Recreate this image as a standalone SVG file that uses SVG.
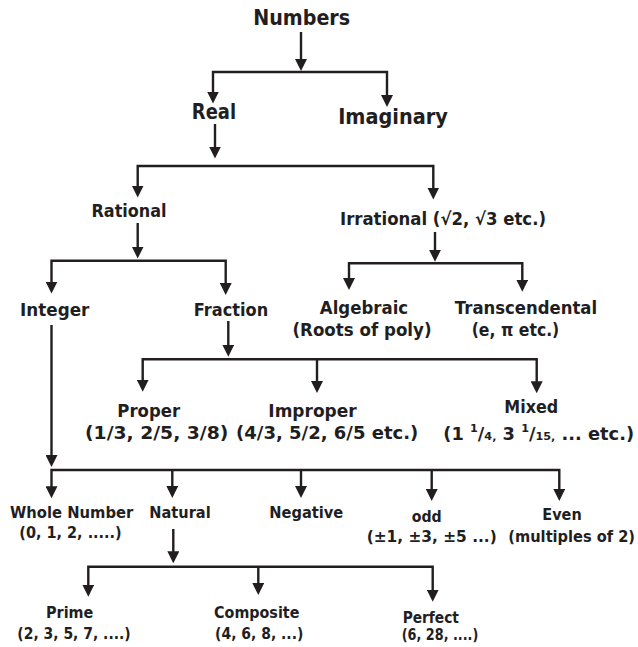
<svg xmlns="http://www.w3.org/2000/svg" width="638" height="647" viewBox="0 0 638 647">
<style>
text{font-family:"DejaVu Sans","Liberation Sans",sans-serif;font-weight:bold;fill:#221e1f;text-anchor:middle}
.t1{font-size:21px}
.t2{font-size:17.5px}
.t3{font-size:15px}
.c{fill:none;stroke:#221e1f;stroke-width:2.4;stroke-linejoin:miter}
</style>
<defs>
<marker id="ah" viewBox="0 0 12 12" markerUnits="userSpaceOnUse" markerWidth="12" markerHeight="12" refX="8" refY="6" orient="auto-start-reverse">
<path d="M0,0 L12,6 L0,12 z" fill="#221e1f"/>
</marker>
</defs>
<rect width="638" height="647" fill="#ffffff"/>
<g id="connectors">
<path class="c" d="M301,32 V67" marker-end="url(#ah)"/>
<path class="c" d="M213,99.5 V72 H387 V103" marker-start="url(#ah)" marker-end="url(#ah)"/>
<path class="c" d="M215,124 V154.5" marker-end="url(#ah)"/>
<path class="c" d="M137.7,193.5 V166 H433.3 V195.5" marker-start="url(#ah)" marker-end="url(#ah)"/>
<path class="c" d="M137.7,223 V254.5" marker-end="url(#ah)"/>
<path class="c" d="M51.5,289.5 V260.7 H225.7 V291" marker-start="url(#ah)" marker-end="url(#ah)"/>
<path class="c" d="M435,232 V257.7" marker-end="url(#ah)"/>
<path class="c" d="M349,286 V263.3 H522.3 V287.7" marker-start="url(#ah)" marker-end="url(#ah)"/>
<path class="c" d="M228.3,321 V352.7" marker-end="url(#ah)"/>
<path class="c" d="M142.7,387.7 V359.3 H536.7 V389.3" marker-start="url(#ah)" marker-end="url(#ah)"/>
<path class="c" d="M317,359.3 V389" marker-end="url(#ah)"/>
<path class="c" d="M51.5,325 V463" marker-end="url(#ah)"/>
<path class="c" d="M51.5,494.3 V470 H559.3 V497" marker-start="url(#ah)" marker-end="url(#ah)"/>
<path class="c" d="M172.3,470 V494" marker-end="url(#ah)"/>
<path class="c" d="M301,470 V494" marker-end="url(#ah)"/>
<path class="c" d="M431.7,470 V497" marker-end="url(#ah)"/>
<path class="c" d="M173.3,529 V559.3" marker-end="url(#ah)"/>
<path class="c" d="M88.3,592.7 V566.7 H432.7 V597.7" marker-start="url(#ah)" marker-end="url(#ah)"/>
<path class="c" d="M258.3,566.7 V591" marker-end="url(#ah)"/>
</g>
<g id="numbers"><text class="t1" x="301.7" y="25" textLength="97" lengthAdjust="spacingAndGlyphs">Numbers</text></g>
<g id="real"><text class="t1" x="214" y="118.5" textLength="44.3" lengthAdjust="spacingAndGlyphs">Real</text></g>
<g id="imaginary"><text class="t1" x="393" y="123.5" textLength="109.7" lengthAdjust="spacingAndGlyphs">Imaginary</text></g>
<g id="rational"><text class="t2" x="129" y="217.3" textLength="75" lengthAdjust="spacingAndGlyphs">Rational</text></g>
<g id="irrational"><text class="t2" x="443" y="225" textLength="206" lengthAdjust="spacingAndGlyphs">Irrational (√2, √3 etc.)</text></g>
<g id="integer"><text class="t2" x="54.7" y="315.7" textLength="69.3" lengthAdjust="spacingAndGlyphs">Integer</text></g>
<g id="fraction"><text class="t2" x="231" y="315.7" textLength="74.3" lengthAdjust="spacingAndGlyphs">Fraction</text></g>
<g id="algebraic"><text class="t2" x="364" y="314" textLength="88.3" lengthAdjust="spacingAndGlyphs">Algebraic</text><text class="t2" x="362" y="335.5" textLength="139" lengthAdjust="spacingAndGlyphs">(Roots of poly)</text></g>
<g id="transcendental"><text class="t2" x="526" y="314" textLength="142.3" lengthAdjust="spacingAndGlyphs">Transcendental</text><text class="t2" x="515.5" y="335.5" textLength="87.6" lengthAdjust="spacingAndGlyphs">(e, π etc.)</text></g>
<g id="proper"><text class="t2" x="148.7" y="417.3" textLength="62.7" lengthAdjust="spacingAndGlyphs">Proper</text><text class="t2" x="156.7" y="439.3" textLength="143.3" lengthAdjust="spacingAndGlyphs">(1/3, 2/5, 3/8)</text></g>
<g id="improper"><text class="t2" x="312.5" y="417.3" textLength="88.4" lengthAdjust="spacingAndGlyphs">Improper</text><text class="t2" x="327.2" y="439.3" textLength="182.3" lengthAdjust="spacingAndGlyphs">(4/3, 5/2, 6/5 etc.)</text></g>
<g id="mixed"><text class="t2" x="531.3" y="412.7" textLength="54" lengthAdjust="spacingAndGlyphs">Mixed</text><text class="t2" x="538.7" y="440" textLength="190.7" lengthAdjust="spacingAndGlyphs">(1 <tspan dy="-8" font-size="11">1</tspan><tspan dy="8">/</tspan><tspan font-size="11">4,</tspan> 3 <tspan dy="-8" font-size="11">1</tspan><tspan dy="8">/</tspan><tspan font-size="11">15,</tspan> ... etc.)</text></g>
<g id="whole"><text class="t3" x="71.7" y="517.7" textLength="123.3" lengthAdjust="spacingAndGlyphs">Whole Number</text><text class="t3" x="70.5" y="538.3" textLength="102.4" lengthAdjust="spacingAndGlyphs">(0, 1, 2, .....)</text></g>
<g id="natural"><text class="t3" x="180" y="517.7" textLength="61.4" lengthAdjust="spacingAndGlyphs">Natural</text></g>
<g id="negative"><text class="t3" x="306.3" y="517.7" textLength="74" lengthAdjust="spacingAndGlyphs">Negative</text></g>
<g id="odd"><text class="t3" x="426.7" y="521.7" textLength="30" lengthAdjust="spacingAndGlyphs">odd</text><text class="t3" x="431.7" y="542.3" textLength="130" lengthAdjust="spacingAndGlyphs">(±1, ±3, ±5 ...)</text></g>
<g id="even"><text class="t3" x="562" y="520" textLength="39.4" lengthAdjust="spacingAndGlyphs">Even</text><text class="t3" x="571.7" y="542.3" textLength="126.7" lengthAdjust="spacingAndGlyphs">(multiples of 2)</text></g>
<g id="prime"><text class="t3" x="69.7" y="618.3" textLength="47.3" lengthAdjust="spacingAndGlyphs">Prime</text><text class="t3" x="74" y="639.3" textLength="113.4" lengthAdjust="spacingAndGlyphs">(2, 3, 5, 7, ....)</text></g>
<g id="composite"><text class="t3" x="256.7" y="618.3" textLength="85.3" lengthAdjust="spacingAndGlyphs">Composite</text><text class="t3" x="259.2" y="639.3" textLength="88.3" lengthAdjust="spacingAndGlyphs">(4, 6, 8, ...)</text></g>
<g id="perfect"><text class="t3" x="430.8" y="623.3" textLength="56.3" lengthAdjust="spacingAndGlyphs">Perfect</text><text class="t3" x="440" y="640" textLength="76.6" lengthAdjust="spacingAndGlyphs">(6, 28, ....)</text></g>
</svg>
